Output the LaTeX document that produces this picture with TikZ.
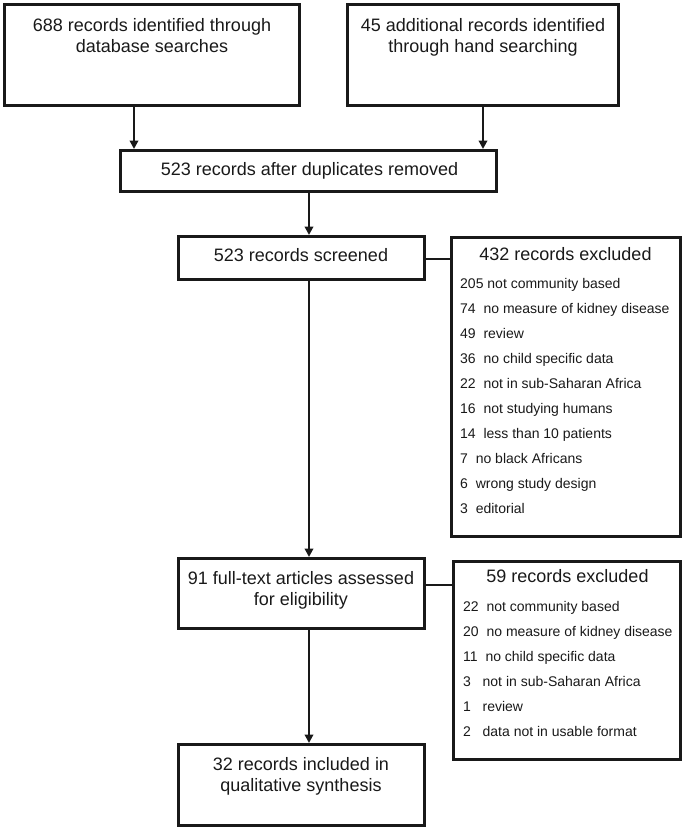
\documentclass[tikz,border=0pt]{standalone}
\usepackage{fontspec}
\setmainfont{Liberation Sans}
\usetikzlibrary{arrows.meta}
\begin{document}
\begin{tikzpicture}[x=1pt,y=-1pt,
  box/.style={draw=black!90, line width=2.8pt, inner sep=0pt},
  arr/.style={draw=black!90, line width=2.4pt, -{Triangle[length=8.5pt,width=8.5pt]}},
  conn/.style={draw=black!90, line width=2.4pt},
  main/.style={anchor=base, inner sep=0pt, text=black!90, font=\fontsize{18}{21}\selectfont},
  item/.style={anchor=base west, inner sep=0pt, text=black!90, font=\fontsize{14}{17}\selectfont}]
\useasboundingbox (0,0) rectangle (685,831);
% boxes
\node[box, minimum width=295.2pt, minimum height=101.2pt] (b1) at (152,55) {};
\node[box, minimum width=271.2pt, minimum height=101.2pt] (b2) at (483,55) {};
\node[box, minimum width=376.2pt, minimum height=41.2pt] (b3) at (308.5,171) {};
\node[box, minimum width=246.2pt, minimum height=43.2pt] (b4) at (301.5,258) {};
\node[box, minimum width=229.2pt, minimum height=299.2pt] (e1) at (566,387) {};
\node[box, minimum width=246.2pt, minimum height=70.2pt] (b5) at (301.5,593.5) {};
\node[box, minimum width=227.2pt, minimum height=198.2pt] (e2) at (567,660.5) {};
\node[box, minimum width=246.2pt, minimum height=81.2pt] (b6) at (301.5,785) {};
% texts
\node[main] (t1a) at (152,31.5) {688 records identified through};
\node[main] (t1b) at (152,52.5) {database searches};
\node[main] (t2a) at (483,31.5) {45 additional records identified};
\node[main] (t2b) at (483,52.5) {through hand searching};
\node[main] (t3) at (309.5,175) {523 records after duplicates removed};
\node[main] (t4) at (301,261.5) {523 records screened};
\node[main] (te1) at (565.5,260.5) {432 records excluded};
\node[main] (t5a) at (301,584) {91 full-text articles assessed};
\node[main] (t5b) at (301,605) {for eligibility};
\node[main] (te2) at (567.5,582) {59 records excluded};
\node[main] (t6a) at (301,770.5) {32 records included in};
\node[main] (t6b) at (301,791.5) {qualitative synthesis};
% exclusion lists
\foreach \t [count=\i from 0] in {
  {205 not community based},
  {74\ \ no measure of kidney disease},
  {49\ \ review},
  {36\ \ no child specific data},
  {22\ \ not in sub-Saharan Africa},
  {16\ \ not studying humans},
  {14\ \ less than 10 patients},
  {7\ \ no black Africans},
  {6\ \ wrong study design},
  {3\ \ editorial}}
  \node[item] (ea\i) at (460,288+25.1*\i) {\t};
\foreach \t [count=\i from 0] in {
  {22\ \ not community based},
  {20\ \ no measure of kidney disease},
  {11\ \ no child specific data},
  {3\ \ \ not in sub-Saharan Africa},
  {1\ \ \ review},
  {2\ \ \ data not in usable format}}
  \node[item] (eb\i) at (463,611+25.1*\i) {\t};
% connectors
\coordinate (xa) at (134,0);
\coordinate (xm) at (309,0);
\coordinate (ya) at (0,259);
\coordinate (yb) at (0,585);
\draw[arr] (xa |- b1.south) -- (xa |- b3.north);
\draw[arr] (b2.south) -- (b2.south |- b3.north);
\draw[arr] (xm |- b3.south) -- (xm |- b4.north);
\draw[arr] (xm |- b4.south) -- (xm |- b5.north);
\draw[arr] (xm |- b5.south) -- (xm |- b6.north);
\draw[conn] (b4.east |- ya) -- (e1.west |- ya);
\draw[conn] (b5.east |- yb) -- (e2.west |- yb);
\end{tikzpicture}
\end{document}
